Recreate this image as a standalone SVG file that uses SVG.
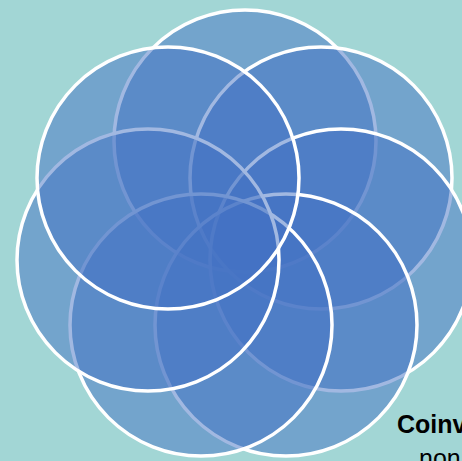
<svg xmlns="http://www.w3.org/2000/svg" width="462" height="461" viewBox="0 0 462 461">
  <style>
    .c { fill: #4472C4; fill-opacity: 0.5; stroke: #FFFFFF; stroke-width: 3.5; }
    .t1 { font-family: "Liberation Sans", Arial, sans-serif; font-weight: bold; font-size: 25px; fill: #000000; }
    .t2 { font-family: "Liberation Sans", Arial, sans-serif; font-size: 25px; fill: #000000; }
  </style>
  <rect x="0" y="0" width="462" height="461" fill="#A2D6D5"/>
  <g id="circle1"><circle class="c" cx="245" cy="141" r="131"/></g>
  <g id="circle2"><circle class="c" cx="321" cy="178" r="131"/></g>
  <g id="circle3"><circle class="c" cx="341" cy="260" r="131"/></g>
  <g id="circle4"><circle class="c" cx="286" cy="325" r="131"/></g>
  <g id="circle5"><circle class="c" cx="201" cy="325" r="131"/></g>
  <g id="circle6"><circle class="c" cx="148" cy="260" r="131"/></g>
  <g id="circle7"><circle class="c" cx="168" cy="178" r="131"/></g>
  <g id="connectors"/>
  <g id="label">
    <text class="t1" x="397" y="433">Coinv</text>
    <text class="t2" x="419" y="467">non</text>
  </g>
</svg>
